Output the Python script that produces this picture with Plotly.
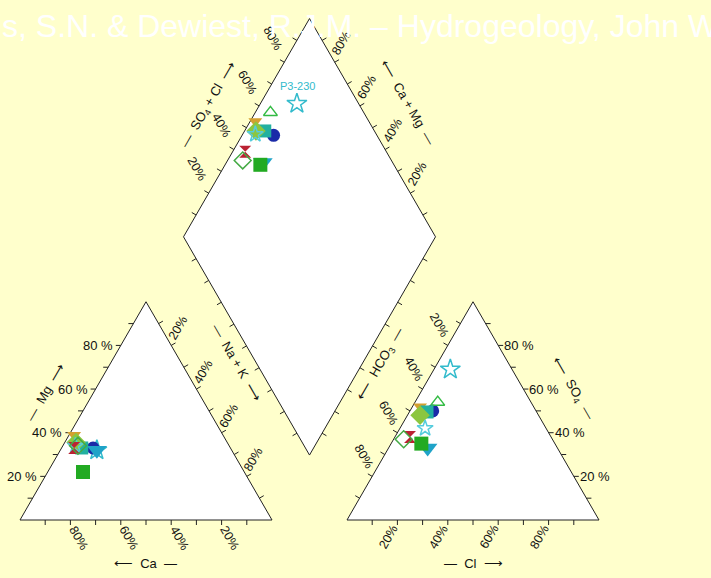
import numpy as np
import plotly.graph_objects as go

# ---------------- data (percent of meq) ----------------
sample_names = ["P3-230", "S-06", "S-05", "S-09", "S-08", "S-10", "S-07", "S-11", "S-03", "S-04", "S-02"]
ca   = [53.5, 54.5, 53.5, 59.0, 59.0, 59.0, 60.0, 61.0, 62.0, 60.0, 64.0]
mg   = [32.0, 33.0, 32.0, 35.0, 39.0, 33.0, 35.5, 34.0, 33.0, 34.0, 22.0]
nak  = [14.5, 12.5, 14.5,  6.0,  2.0,  8.0,  4.5,  5.0,  5.0,  6.0, 14.0]
hco3 = [24.5, 41.0, 51.5, 37.0, 45.0, 43.5, 47.0, 48.0, 56.0, 59.0, 53.0]
so4  = [69.0, 50.0, 33.0, 54.0, 52.0, 49.5, 48.0, 42.0, 38.0, 37.0, 35.0]
cl   = [ 6.5,  9.0, 15.5,  9.0,  3.0,  7.0,  5.0, 10.0,  6.0,  4.0, 12.0]
labelled_sample = "P3-230"
tick_values = [20, 40, 60, 80]
title_text = "Davis, S.N. & Dewiest, R.J.M. – Hydrogeology, John Wiley & Sons"

# ---------------- styles ----------------
symbols = ["star-open", "circle", "triangle-down", "triangle-up-open", "triangle-down", "square", "diamond",
           "star-open", "hourglass", "diamond-open", "square"]
colors = ["#33BBCC", "#1A2AA8", "#1FA3C8", "#33BB44", "#D4A030", "#22B0A0", "#8CC63F",
          "#55CCDD", "#BB2233", "#44AA44", "#22AA22"]
sizes = [15, 13, 17, 12, 12, 13, 15, 12, 12, 13, 14]

BG = "#FFFFCC"
W, Hpx = 711, 578
FONT = "Liberation Sans, Arial, sans-serif"

# ---------------- geometry ----------------
S = 252.0
H = np.sqrt(3) / 2
LX0, RX0, BY = 20.0, 347.0, 520.0
gap = RX0 - (LX0 + S)
B = (LX0 + S + gap / 2, BY - gap / 2 * np.sqrt(3))
Lf = (B[0] - S / 2, B[1] - S * H)
T = (B[0], B[1] - 2 * S * H)
Rt = (B[0] + S / 2, B[1] - S * H)
LA = (LX0 + S / 2, BY - S * H)
RA = (RX0 + S / 2, BY - S * H)


def cat_xy(m, n):
    return LX0 + S * (n + m / 2) / 100, BY - S * H * m / 100


def an_xy(s, c):
    return RX0 + S * (c + s / 2) / 100, BY - S * H * s / 100


def dia_xy(n, a):
    n, a = n / 100, a / 100
    return Lf[0] + S / 2 * (n + a), Lf[1] + S * H * (n - a)


fig = go.Figure()

outlines = [
    [(LX0, BY), (LX0 + S, BY), LA],
    [(RX0, BY), (RX0 + S, BY), RA],
    [Lf, T, Rt, B],
]
for poly in outlines:
    xs = [p[0] for p in poly] + [poly[0][0]]
    ys = [p[1] for p in poly] + [poly[0][1]]
    fig.add_trace(go.Scatter(x=xs, y=ys, mode="lines", fill="toself", fillcolor="white",
                             line=dict(color="#222222", width=1), hoverinfo="skip", showlegend=False))

edges = [
    ((LX0, BY), (LX0 + S, BY), (0, 1)),
    ((LX0, BY), LA, (-1, 0)),
    (LA, (LX0 + S, BY), (H, -0.5)),
    ((RX0, BY), (RX0 + S, BY), (0, 1)),
    ((RX0, BY), RA, (-H, -0.5)),
    (RA, (RX0 + S, BY), (1, 0)),
    (Lf, T, (-H, -0.5)),
    (T, Rt, (H, -0.5)),
    (Rt, B, (H, 0.5)),
    (B, Lf, (-H, 0.5)),
]
tx, ty = [], []
for p0, p1, nrm in edges:
    for k in range(1, 10):
        t = k / 10
        px = p0[0] + (p1[0] - p0[0]) * t
        py = p0[1] + (p1[1] - p0[1]) * t
        tx += [px, px + 5 * nrm[0], None]
        ty += [py, py + 5 * nrm[1], None]
fig.add_trace(go.Scatter(x=tx, y=ty, mode="lines", line=dict(color="#222222", width=1),
                         hoverinfo="skip", showlegend=False))

for i, name in enumerate(sample_names):
    cx, cy = cat_xy(mg[i], nak[i])
    ax, ay = an_xy(so4[i], cl[i])
    dx, dy = dia_xy(nak[i], so4[i] + cl[i])
    open_sym = symbols[i].endswith("open")
    fig.add_trace(go.Scatter(
        x=[cx, ax, dx], y=[cy, ay, dy], mode="markers", name=name, showlegend=False,
        marker=dict(symbol=symbols[i], size=sizes[i], color=colors[i],
                    line=dict(color=colors[i], width=1.5 if open_sym else 0))))
    if name == labelled_sample:
        fig.add_annotation(x=dx + 1, y=dy - 18, text=name, showarrow=False,
                           font=dict(family=FONT, size=11, color="#33BBCC"))

annots = []


def lab(x, y, text, angle=0, xanchor="center", size=12):
    annots.append(dict(x=x, y=y, text=text, showarrow=False, textangle=angle,
                       xanchor=xanchor, yanchor="middle",
                       font=dict(family=FONT, size=size, color="#111111")))


for v in tick_values:
    f = v / 100
    lab(LX0 + S * f / 2 - 6, BY - S * H * f, f"{v} %", 0, "right", 13)
    lab(LX0 + S * (1 - f) + 8, BY + 18, f"{v}%", 60, size=12.5)
    lab(LA[0] + S / 2 * f + 7, LA[1] + S * H * f - 17, f"{v}%", -60, size=12.5)
    lab(RA[0] - S / 2 * f - 9, RA[1] + S * H * f - 20, f"{v}%", 60, size=12.5)
    lab(RX0 + S - S / 2 * f + 4, BY - S * H * f, f"{v} %", 0, "left", 13)
    lab(RX0 + S * f - 9, BY + 17, f"{v}%", -60, size=12.5)
    lab(Lf[0] + S / 2 * f - 12, Lf[1] - S * H * f - 24, f"{v}%", 60, size=12.5)
    lab(Rt[0] - S / 2 * f + 7, Rt[1] - S * H * f - 19, f"{v}%", -60, size=12.5)

lab(45, 392, "—  Mg  ⟶", -60, size=13)
lab(145, 563, "⟵  Ca  —", 0, size=13)
lab(237, 362, "—  Na + K  ⟶", 60, size=13)
lab(380, 364, "⟵  HCO<sub>3</sub>  —", -60, size=13)
lab(573, 388, "⟵  SO<sub>4</sub>  —", 60, size=13)
lab(473, 563, "—  Cl  ⟶", 0, size=13)
lab(208, 105, "—  SO<sub>4</sub> + Cl  ⟶", -60, size=13)
lab(408, 102, "⟵  Ca + Mg  —", 60, size=13)

for a in annots:
    fig.add_annotation(**a)

fig.add_annotation(x=-64 / W, y=1 - 26 / Hpx, xref="paper", yref="paper", xanchor="left", yanchor="middle",
                   text=title_text, showarrow=False, font=dict(family=FONT, size=32, color="white"))

fig.update_layout(
    width=W, height=Hpx, margin=dict(l=0, r=0, t=0, b=0),
    paper_bgcolor=BG, plot_bgcolor=BG,
    xaxis=dict(range=[0, W], visible=False, fixedrange=True),
    yaxis=dict(range=[Hpx, 0], visible=False, fixedrange=True),
)
fig.write_html("out.html", config={"displayModeBar": False},
               post_script="document.body.style.margin='0';document.body.style.background='" + BG + "';")
